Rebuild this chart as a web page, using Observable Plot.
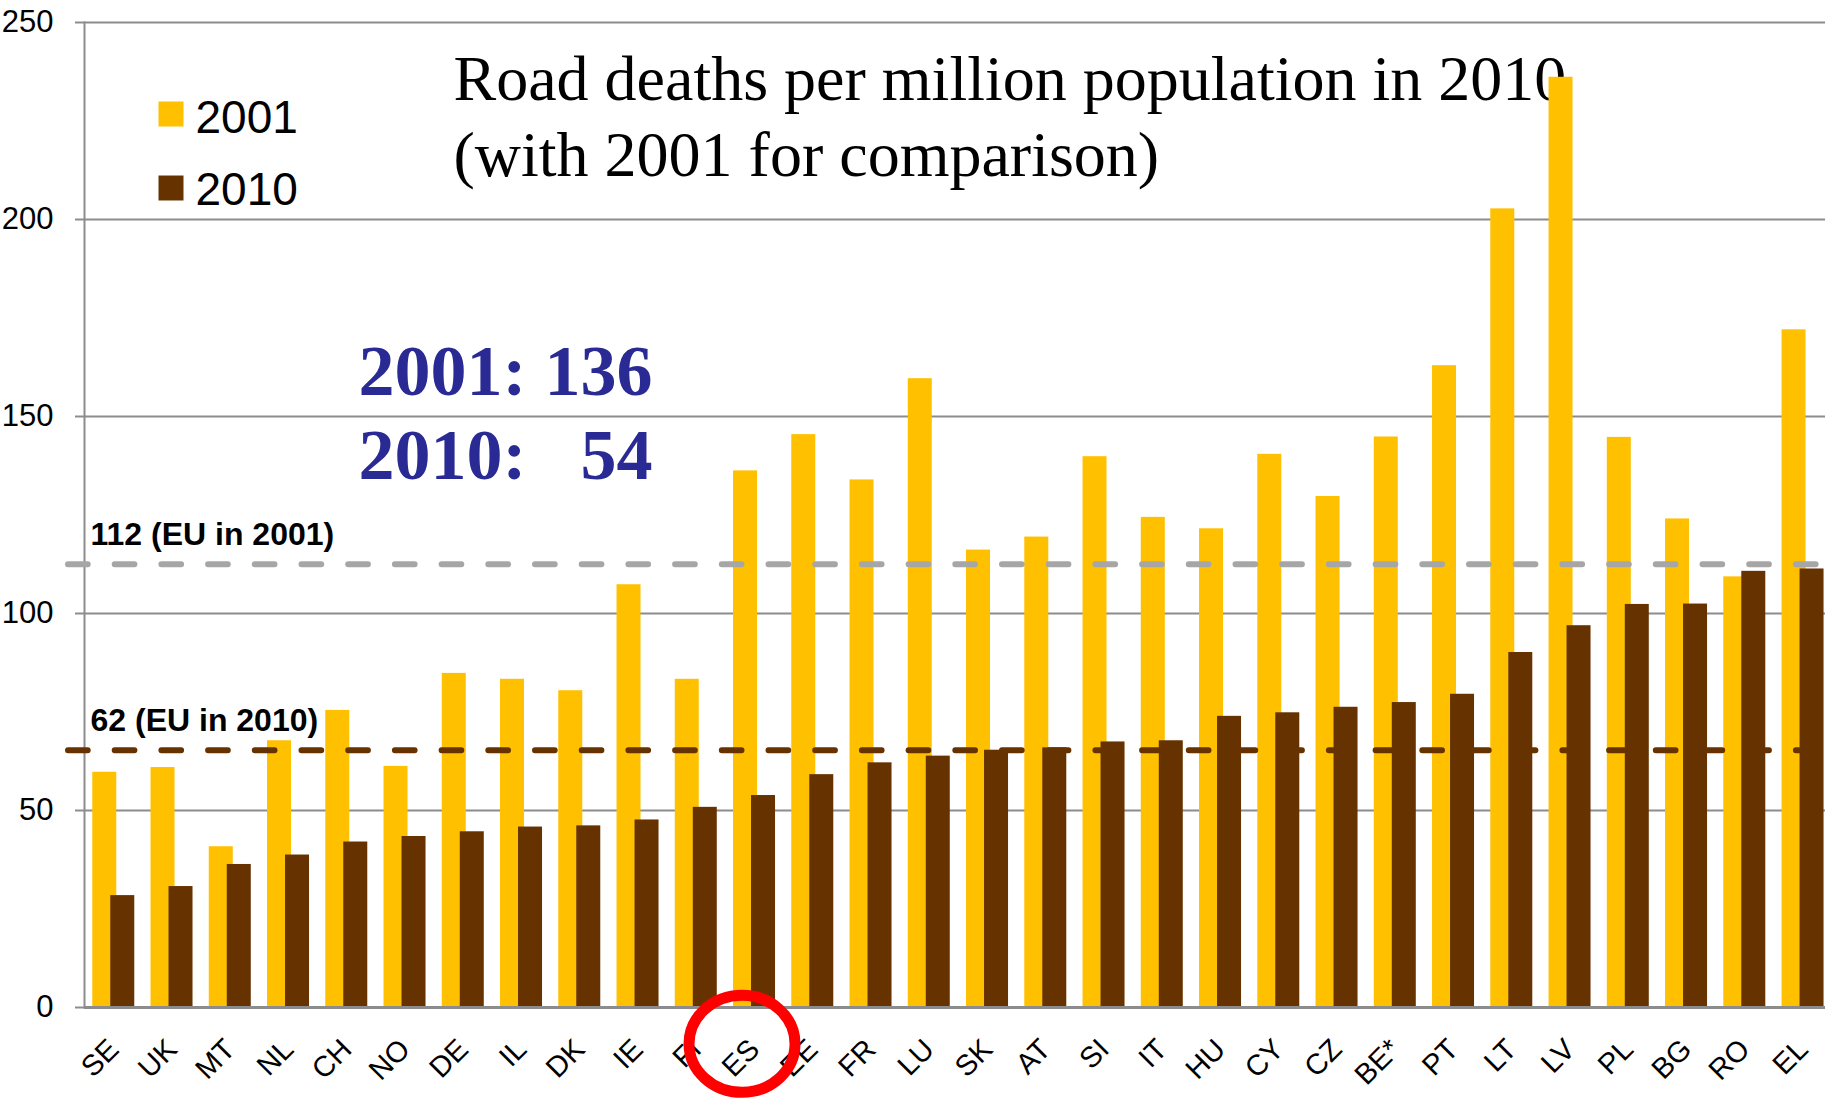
<!DOCTYPE html>
<html>
<head>
<meta charset="utf-8">
<script src="https://cdn.jsdelivr.net/npm/d3@7"></script>
<script src="https://cdn.jsdelivr.net/npm/@observablehq/plot@0.6"></script>
<style>
  html, body { margin: 0; padding: 0; background: #fff; overflow: hidden; }
  #chart svg { display: block; }
</style>
</head>
<body>
<div id="chart"></div>
<script>
// ---- data ----
const countries = ["SE","UK","MT","NL","CH","NO","DE","IL","DK","IE","FI","ES","EE","FR","LU","SK","AT","SI","IT","HU","CY","CZ","BE*","PT","LT","LV","PL","BG","RO","EL"];
const deaths2001 = [59.7,60.9,40.8,67.7,75.4,61.2,84.8,83.3,80.4,107.3,83.3,136.2,145.4,133.9,159.6,116.1,119.4,139.8,124.4,121.5,140.4,129.7,144.8,162.9,202.7,236.1,144.7,124.0,109.3,172.0];
const deaths2010 = [28.4,30.7,36.3,38.7,42.0,43.4,44.6,45.8,46.1,47.6,50.8,53.8,59.1,62.1,63.8,65.3,65.9,67.4,67.7,73.9,74.8,76.2,77.4,79.5,90.1,96.9,102.3,102.4,110.7,111.3];
const yTicks = [0, 50, 100, 150, 200, 250];
const seriesNames = ["2001", "2010"];
const seriesColors = ["#FFC000", "#663300"];
const euValues = [112.5, 65.3];
const euLabels = ["112 (EU in 2001)", "62 (EU in 2010)"];
const euColors = ["#a6a6a6", "#663300"];
const titleText = "Road deaths per million population in 2010\n(with 2001 for comparison)";
const highlightText = "2001: 136\n2010:\u00a0\u00a0\u00a054";
const highlightCountry = "ES";

const rows2001 = countries.map((c, i) => ({country: c, value: deaths2001[i]}));
const rows2010 = countries.map((c, i) => ({country: c, value: deaths2010[i]}));
const euRows = euValues.map((v, i) => ({value: v, label: euLabels[i], color: euColors[i]}));

// ellipse symbol for the red highlight ring
const K = 0.5523;
const ellipse = {
  draw(ctx) {
    const rx = 53, ry = 48.5;
    ctx.moveTo(rx, 0);
    ctx.bezierCurveTo(rx, ry * K, rx * K, ry, 0, ry);
    ctx.bezierCurveTo(-rx * K, ry, -rx, ry * K, -rx, 0);
    ctx.bezierCurveTo(-rx, -ry * K, -rx * K, -ry, 0, -ry);
    ctx.bezierCurveTo(rx * K, -ry, rx, -ry * K, rx, 0);
    ctx.closePath();
  }
};

const sans = "'Liberation Sans', Arial, sans-serif";
const serif = "'Liberation Serif', 'Times New Roman', serif";

const legendMarks = seriesNames.flatMap((name, i) => [
  Plot.dot([name], {frameAnchor: "top-left", dx: 86.5, dy: 91.5 + i * 74, symbol: "square", r: 14.1, fill: seriesColors[i], stroke: "none"}),
  Plot.text([name], {text: d => d, frameAnchor: "top-left", dx: 111, dy: 110 + i * 72.3, lineAnchor: "bottom", textAnchor: "start", fontSize: 46, fontFamily: sans, fill: "black"})
]);

const chart = Plot.plot({
  width: 1825,
  height: 1101,
  marginLeft: 84,
  marginRight: 0,
  marginTop: 22,
  marginBottom: 94,
  style: {fontFamily: sans, background: "white", overflow: "visible"},
  x: {type: "band", domain: countries, paddingInner: 0.279, paddingOuter: 0.0835, align: 0.85, round: false, axis: null},
  y: {domain: [0, 250], axis: null},
  marks: [
    Plot.gridY(yTicks, {stroke: "#8c8c8c", strokeOpacity: 1, strokeWidth: 2}),
    Plot.frame({anchor: "left", stroke: "#8c8c8c", strokeWidth: 2}),
    Plot.axisY(yTicks, {tickSize: 9, tickPadding: 22, fontSize: 31, stroke: "#8c8c8c", strokeWidth: 2, fill: "black", label: null, tickFormat: d => String(d)}),
    Plot.text([titleText], {text: d => d, frameAnchor: "top-left", dx: 369, dy: 153, lineAnchor: "bottom", textAnchor: "start", lineHeight: 1.18, fontSize: 64, fontFamily: serif, fill: "black"}),
    Plot.text([highlightText], {text: d => d, frameAnchor: "top-left", dx: 568, dy: 456, lineAnchor: "bottom", textAnchor: "end", lineHeight: 1.153, fontSize: 72, fontWeight: "bold", fontFamily: serif, fill: "#2A2A94"}),
    Plot.barY(rows2001, {x: "country", y: "value", fill: seriesColors[0], insetRight: 18}),
    Plot.barY(rows2010, {x: "country", y: "value", fill: seriesColors[1], insetLeft: 18}),
    Plot.ruleY([0], {stroke: "#8c8c8c", strokeWidth: 3}),
    Plot.ruleY(euRows, {y: "value", stroke: "color", strokeWidth: 6, strokeDasharray: "19.7,27", strokeLinecap: "round", insetLeft: -16}),
    Plot.text(euRows, {y: "value", text: "label", frameAnchor: "left", dx: 6, dy: -19, lineAnchor: "bottom", textAnchor: "start", fontSize: 32, fontWeight: "bold", fontFamily: sans, fill: "black"}),
    ...legendMarks,
    Plot.axisX({tickSize: 0, tickPadding: 37, tickRotate: -45, textAnchor: "end", lineAnchor: "middle", fontSize: 29, fill: "black", label: null}),
    Plot.dot([highlightCountry], {x: d => d, frameAnchor: "bottom", dx: -12.5, dy: 36.3, symbol: ellipse, stroke: "#FF0000", strokeWidth: 11, fill: "none"})
  ]
});
document.getElementById("chart").appendChild(chart);
</script>
</body>
</html>
